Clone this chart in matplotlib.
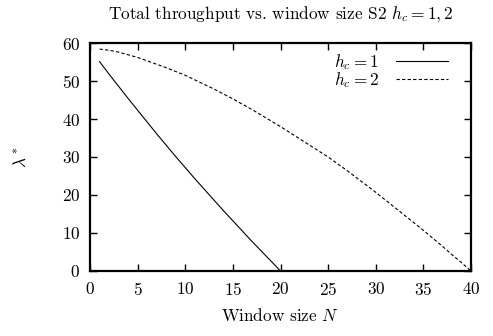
import matplotlib
matplotlib.use("Agg")
import matplotlib.pyplot as plt

plt.rcParams['font.family'] = 'serif'
plt.rcParams['font.serif'] = ['cmr10']
plt.rcParams['mathtext.fontset'] = 'cm'
plt.rcParams['axes.formatter.use_mathtext'] = True

# window size N
n1 = list(range(1, 21))
n2 = list(range(1, 41))

# total throughput, h_c = 1
lam1 = [55.1, 51.8, 48.6, 45.4, 42.3, 39.2, 36.1, 33.1, 30.1, 27.2,
        24.3, 21.5, 18.7, 15.9, 13.2, 10.5, 7.8, 5.2, 2.6, 0.0]

# total throughput, h_c = 2
lam2 = [58.4, 58.1, 57.6, 56.9, 56.2, 55.3, 54.4, 53.5, 52.5, 51.5,
        50.3, 49.1, 47.9, 46.6, 45.3, 43.9, 42.5, 41.0, 39.5, 38.0,
        36.4, 34.8, 33.2, 31.6, 30.0, 28.2, 26.4, 24.5, 22.6, 20.7,
        18.7, 16.7, 14.7, 12.7, 10.7, 8.6, 6.5, 4.3, 2.2, 0.0]

xticks = [0, 5, 10, 15, 20, 25, 30, 35, 40]
yticks = [0, 10, 20, 30, 40, 50, 60]

fs = 12.4

fig = plt.figure(figsize=(4.93, 3.36), dpi=100)
ax = fig.add_axes([0.1826, 0.1935, 0.7728, 0.6785])

ax.plot(n1, lam1, color='black', lw=0.8, label='$h_c = 1$')
ax.plot(n2, lam2, color='black', lw=0.8, linestyle=(0, (3, 2)), label='$h_c = 2$')

ax.set_xlim(0, 40)
ax.set_ylim(0, 60)
ax.set_xticks(xticks)
ax.set_yticks(yticks)
ax.tick_params(direction='in', length=5, width=1, top=True, right=True,
               labelsize=fs, pad=7)
for s in ax.spines.values():
    s.set_linewidth(1.6)

ax.set_title('Total throughput vs. window size S2 $h_c = 1, 2$', fontsize=fs, pad=18)
ax.set_xlabel('Window size $N$', fontsize=fs, labelpad=7)
ax.set_ylabel(r'$\lambda^*$', fontsize=fs, labelpad=24)

ax.legend(loc='upper right', bbox_to_anchor=(0.953, 0.985), frameon=False,
          markerfirst=False, fontsize=fs, handlelength=3.0, labelspacing=-0.08,
          borderaxespad=0.0, borderpad=0.3, handletextpad=1.0)

fig.savefig('out.png', dpi=100)
